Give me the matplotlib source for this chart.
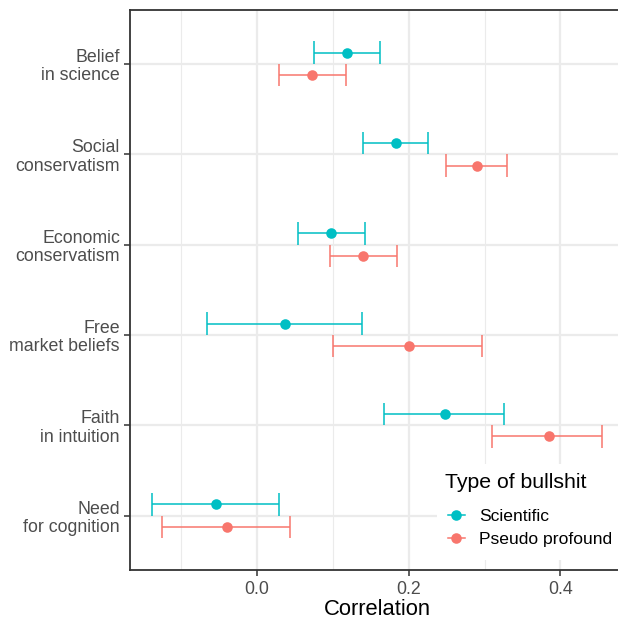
import matplotlib
matplotlib.use("Agg")
import matplotlib.pyplot as plt
import numpy as np
from matplotlib.lines import Line2D
from matplotlib.patches import Rectangle

plt.rcParams['font.family'] = ['Liberation Sans', 'DejaVu Sans']

categories = ["Belief\nin science", "Social\nconservatism", "Economic\nconservatism",
              "Free\nmarket beliefs", "Faith\nin intuition", "Need\nfor cognition"]
series = ["Scientific", "Pseudo profound"]
legend_title = "Type of bullshit"
colors = ["#00BFC4", "#F8766D"]

sci_est = [0.119, 0.183, 0.098, 0.037, 0.248, -0.054]
sci_lo = [0.075, 0.140, 0.054, -0.066, 0.168, -0.138]
sci_hi = [0.162, 0.226, 0.142, 0.139, 0.326, 0.029]

pse_est = [0.073, 0.290, 0.140, 0.200, 0.385, -0.040]
pse_lo = [0.029, 0.249, 0.096, 0.100, 0.310, -0.125]
pse_hi = [0.118, 0.330, 0.184, 0.297, 0.455, 0.044]

x_ticks = [0.0, 0.2, 0.4]
x_tick_labels = ["0.0", "0.2", "0.4"]

W, H = 618, 620
fig = plt.figure(figsize=(W / 100, H / 100), dpi=100)
left, right, top, bottom = 129.7, 624.7, 9.7, 569.7
ax = fig.add_axes([left / W, 1 - bottom / H, (right - left) / W, (bottom - top) / H])

def fx(px):
    return px / W

def fy(py):
    return 1 - py / H

n = len(categories)
ypos = np.arange(n, 0, -1).astype(float)  # Belief at top
dodge = 0.125
cap = 0.125

grid_c = "#EBEBEB"
for xv in [-0.1, 0.1, 0.3]:
    ax.axvline(xv, color=grid_c, lw=0.8, zorder=0)
for xv in x_ticks:
    ax.axvline(xv, color=grid_c, lw=1.6, zorder=0)
for yv in ypos:
    ax.axhline(yv, color=grid_c, lw=1.6, zorder=0)

data = [(sci_est, sci_lo, sci_hi, +dodge), (pse_est, pse_lo, pse_hi, -dodge)]
for (est, lo, hi, off), col in zip(data, colors):
    for i in range(n):
        y = ypos[i] + off
        ax.plot([lo[i], hi[i]], [y, y], color=col, lw=1.1, zorder=2, solid_capstyle='butt')
        ax.plot([lo[i], lo[i]], [y - cap, y + cap], color=col, lw=1.1, zorder=2, solid_capstyle='butt')
        ax.plot([hi[i], hi[i]], [y - cap, y + cap], color=col, lw=1.1, zorder=2, solid_capstyle='butt')
        ax.plot(est[i], y, 'o', color=col, ms=7.6, mec='none', zorder=3)

ax.set_xlim(-0.1677, 0.4847)
ax.set_ylim(0.4, 6.6)
ax.set_xticks(x_ticks)
ax.set_xticklabels(x_tick_labels)
ax.set_yticks(ypos)
ax.set_yticklabels(categories, linespacing=1.12)
ax.tick_params(axis='both', colors="#333333", length=4, width=1.1, labelcolor="#4D4D4D",
               labelsize=12.8)
ax.tick_params(axis='x', pad=4)
ax.tick_params(axis='y', pad=3)
for s in ['left', 'bottom', 'top']:
    ax.spines[s].set_color("#333333")
    ax.spines[s].set_linewidth(1.3)
ax.spines['right'].set_visible(False)
ax.set_xlabel("Correlation", fontsize=15.8, color="black", labelpad=1)

# legend background box
fig.patches.append(Rectangle((fx(436.7), fy(560)), fx(630) - fx(436.7), fy(464) - fy(560),
                             transform=fig.transFigure, facecolor='white', edgecolor='none',
                             zorder=4))
fig.text(fx(445), fy(483), legend_title, fontsize=15.3, color='black', va='center', ha='left',
         zorder=6)
handles = [Line2D([0], [0], color=c, lw=1.1, marker='o', ms=7.6, mec='none') for c in colors]
leg = fig.legend(handles, series, loc='upper left',
                 bbox_to_anchor=(fx(447.7), fy(508.5)), bbox_transform=fig.transFigure,
                 frameon=False, fontsize=12.6, handlelength=1.0, handletextpad=0.8,
                 labelspacing=0.45, borderpad=0, borderaxespad=0)
leg.set_zorder(6)

fig.savefig("out.png", dpi=100)
